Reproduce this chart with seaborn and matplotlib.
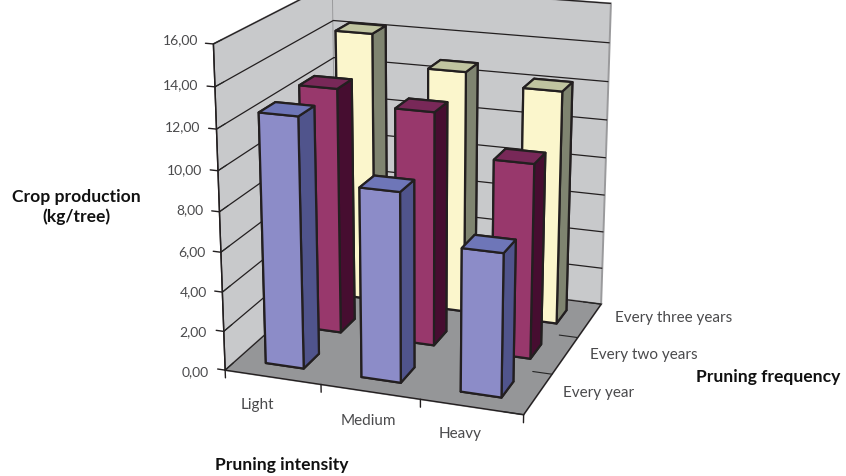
import matplotlib.pyplot as plt
import seaborn as sns

intensity = ["Light", "Medium", "Heavy"]
frequency = ["Every year", "Every two years", "Every three years"]
every_year = [12.55, 9.45, 7.1]
every_two_years = [12.65, 11.95, 9.9]
every_three_years = [14.3, 12.75, 12.2]
z_ticks = [0, 2, 4, 6, 8, 10, 12, 14, 16]
z_labels = ["0,00", "2,00", "4,00", "6,00", "8,00", "10,00", "12,00", "14,00", "16,00"]

sns.set_style("white")
plt.rcParams["font.family"] = ["Lato", "DejaVu Sans"]

# bottom, top, front, back, left, right faces
faces = [
    ["#50548c", "#6e76b8", "#8c8cc8", "#50548c", "#50548c", "#50548c"],
    ["#460d30", "#782858", "#98386c", "#460d30", "#460d30", "#460d30"],
    ["#7f8470", "#c0c4a0", "#fbf6cc", "#7f8470", "#7f8470", "#7f8470"],
]
edge = "#231f20"
text_color = "#4a4a4c"
bar_w = 0.40

fig = plt.figure(figsize=(8.46, 4.76), dpi=100)
ax = fig.add_axes([-13 / 846, -142 / 476, 1, 846 / 476], projection="3d", computed_zorder=False)
ax.set_proj_type("persp", focal_length=0.40)
ax.view_init(elev=18, azim=-70.5)
ax.set_box_aspect((1.755, 1.685, 1.89), zoom=0.615)
ax.patch.set_alpha(0)

ax.set_xlim(0, 3)
ax.set_ylim(0, 3)
ax.set_zlim(0, 16)
ax.set_xticks(range(4))
ax.set_yticks(range(4))
ax.set_zticks(z_ticks)
ax.set_xticklabels([])
ax.set_yticklabels([])
ax.set_zticklabels([])
ax.zaxis.set_ticks_position("lower")

ax.xaxis.set_pane_color("#c8c9cb")
ax.yaxis.set_pane_color("#c8c9cb")
ax.zaxis.set_pane_color("#959698")
for axis in [ax.xaxis, ax.yaxis, ax.zaxis]:
    axis.pane.set_edgecolor("#9a9a9c")
    axis.pane.set_linewidth(1.4)
    axis.line.set_color(edge)
    axis.line.set_linewidth(1.0)
    axis._axinfo["tick"]["color"] = edge
    axis._axinfo["tick"]["outward_factor"] = 0.8
    axis._axinfo["tick"]["inward_factor"] = 0.0
    axis._axinfo["grid"]["color"] = (0, 0, 0, 0)
ax.xaxis._axinfo["tick"]["outward_factor"] = 0.0
ax.zaxis._axinfo["grid"]["color"] = edge
ax.zaxis._axinfo["grid"]["linewidth"] = 0.9

# z axis sits on the front left edge here
ax.plot([0, 0], [0, 0], [0, 16], color=edge, linewidth=1.0, zorder=2)
for v in z_ticks:
    ax.plot([-0.08, 0], [0, 0], [v, v], color=edge, linewidth=1.0, zorder=2)
# x ticks hang straight down in the reference
for t in range(4):
    ax.plot([t, t], [0, 0], [0, -0.4], color=edge, linewidth=1.0, zorder=2)

# back row first so nearer bars paint over it
rows = [every_year, every_two_years, every_three_years]
z = 3
for r in [2, 1, 0]:
    for c in range(3):
        ax.bar3d(
            c + 0.5 - bar_w / 2, r + 0.5 - bar_w / 2, 0,
            bar_w, bar_w, rows[r][c],
            color=faces[r], edgecolor=edge, linewidth=1.6,
            shade=False, zorder=z,
        )
        z += 1

# label anchors in reference pixels
z_px = [(209, 372), (207, 332), (207, 292), (205, 252), (203, 210), (202, 170), (200, 127), (198, 85), (198, 40)]
cat_px = [(257, 405), (368, 421), (460, 434)]
freq_px = [(599, 393), (644, 355), (674, 318)]
for name, (px, py) in zip(z_labels, z_px):
    fig.text(px / 846, 1 - py / 476, name, fontsize=10, color=text_color, ha="right", va="center")
for name, (px, py) in zip(intensity, cat_px):
    fig.text(px / 846, 1 - py / 476, name, fontsize=11, color=text_color, ha="center", va="center")
for name, (px, py) in zip(frequency, freq_px):
    fig.text(px / 846, 1 - py / 476, name, fontsize=11, color=text_color, ha="center", va="center")

fig.text(76 / 846, 1 - 207 / 476, "Crop production\n(kg/tree)", fontsize=12.6, fontweight="bold",
         color="#111111", ha="center", va="center")
fig.text(282 / 846, 1 - 465 / 476, "Pruning intensity", fontsize=12.6, fontweight="bold",
         color="#111111", ha="center", va="center")
fig.text(768 / 846, 1 - 377 / 476, "Pruning frequency", fontsize=12.6, fontweight="bold",
         color="#111111", ha="center", va="center")

plt.savefig("out.png", dpi=100)
